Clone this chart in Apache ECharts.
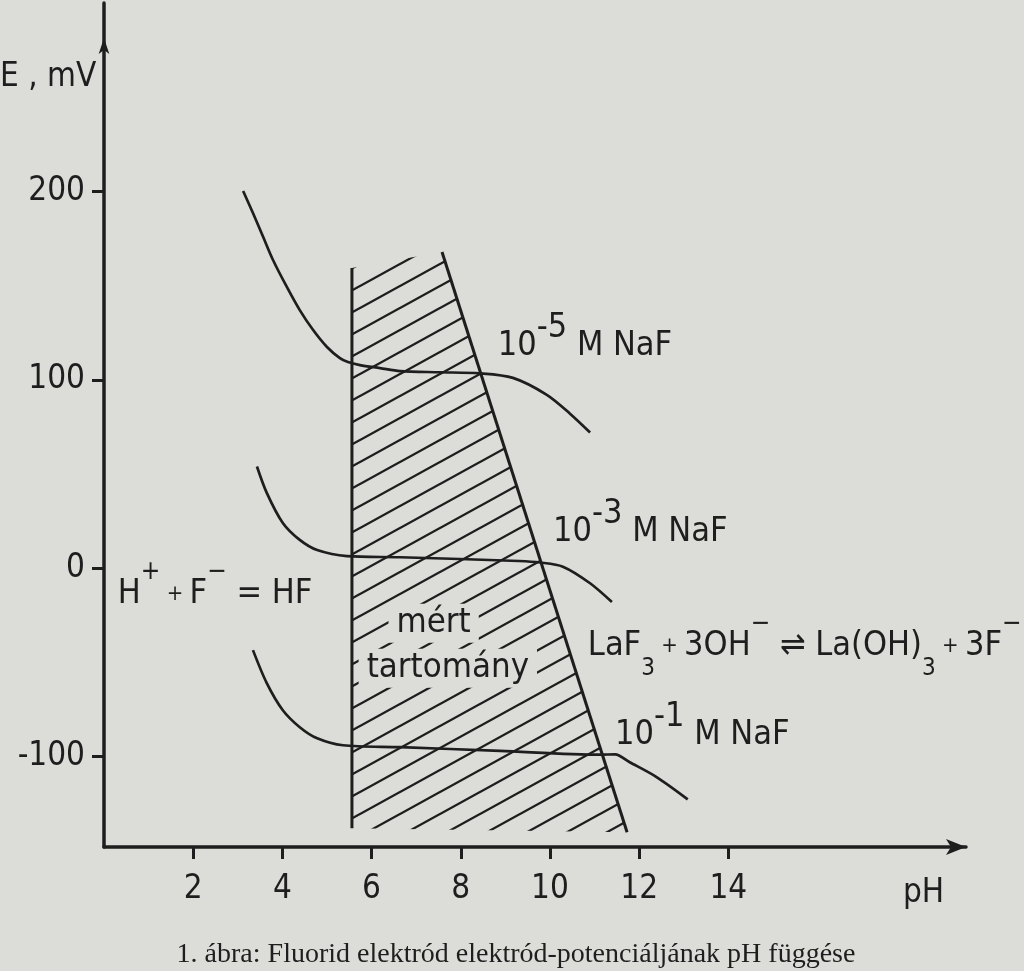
<!DOCTYPE html>
<html><head><meta charset="utf-8">
<script src="https://cdn.jsdelivr.net/npm/echarts@6/dist/echarts.min.js"></script>
<style>html,body{margin:0;padding:0;background:#dcdcd9;}#c{width:1024px;height:971px;}</style>
</head><body><div id="c"></div>
<script>
// ---- data (pH, E in mV) ----
const xTicks = [2, 4, 6, 8, 10, 12, 14];
const yTicks = [-100, 0, 100, 200];
const curve5 = [[3.12,200.2],[3.34,188.5],[3.57,175.8],[3.79,163.6],[4.10,149.3],[4.39,137.0],[4.69,126.4],[5.00,117.4],[5.29,111.5],[5.47,109.4],[5.74,107.8],[6.19,106.2],[6.64,104.6],[7.53,104],[8.43,103.4],[9.17,101],[9.93,92],[10.45,82],[10.90,72]];
const curve3 = [[3.43,54],[3.65,40],[4.01,24],[4.39,15],[4.78,9.6],[5.45,6.4],[6.64,5.8],[9.3,3.8],[9.78,3.0],[10.29,0.8],[10.9,-8],[11.39,-18]];
const curve1 = [[3.34,-43.5],[3.65,-61],[4.01,-75.4],[4.39,-84.4],[4.78,-90.3],[5.36,-94],[6.64,-95],[8.88,-97],[11.12,-99],[11.46,-98.8],[11.79,-103],[12.40,-111],[13.09,-122.7]];
const rangeLeft = [[5.56,159.3],[5.56,-138]];
const rangeRight = [[7.58,167.8],[11.73,-140.2]];
const rangeArea = [[5.56,159.3],[7.58,167.8],[11.73,-140.2],[5.56,-138]];
const annotations = [
  {at:[8.83,118],  text:'{m|10}{sup|-5}{m| M NaF}'},
  {at:[10.07,19],  text:'{m|10}{sup|-3}{m| M NaF}'},
  {at:[11.46,-88.7], text:'{m|10}{sup|-1}{m| M NaF}'},
  {at:[10.85,-41.4], text:'{m|LaF}{sub|3}{op| + }{m|3OH}{chg|−}{m| ⇌ La(OH)}{sub|3}{op| + }{m|3F}{chg|−}'},
  {at:[0.31,-13.8], text:'{m|H}{chg|+}{op| + }{m|F}{chg|−}{m| = HF}'},
  {at:[6.38,-29.2], text:'{k|mért}'},
  {at:[5.71,-53.1], text:'{k|tartomány}'}
];
const yName = 'E , mV';
const xName = 'pH';
const caption = '1. ábra: Fluorid elektród elektród-potenciáljának pH függése';

// ---- style ----
const INK = '#1e1e1e';
const BG = '#dcdcd9';
const F = "'DejaVu Sans Condensed','Liberation Sans Narrow','DejaVu Sans',sans-serif";

function hatchCanvas(){
  const W = 40, H = 22;
  const c = document.createElement('canvas');
  c.width = W; c.height = H;
  const g = c.getContext('2d');
  g.strokeStyle = INK; g.lineWidth = 2.3;
  [-H, 0, H].forEach(function(dy){
    g.beginPath(); g.moveTo(-W, 2*H + dy); g.lineTo(2*W, -H + dy); g.stroke();
  });
  return c;
}
const hatch = hatchCanvas();

const rich = {
  m:   {fontSize:34, lineHeight:70, fontFamily:F, color:INK},
  sup: {fontSize:34, lineHeight:30, verticalAlign:'top', fontFamily:F, color:INK},
  sub: {fontSize:24, lineHeight:30, verticalAlign:'bottom', fontFamily:F, color:INK},
  chg: {fontSize:26, lineHeight:40, verticalAlign:'top', fontFamily:F, color:INK},
  op:  {fontSize:22, lineHeight:70, fontFamily:F, color:INK},
  k:   {fontSize:34.5, lineHeight:36, fontFamily:F, color:INK, backgroundColor:BG, padding:[2,8,2,8]}
};

function curve(d){
  return {type:'line', data:d, showSymbol:false, smooth:0.3, z:4,
    lineStyle:{color:INK, width:2.7}, silent:true};
}
function straight(d){
  return {type:'line', data:d, showSymbol:false, z:4,
    lineStyle:{color:INK, width:3}, silent:true};
}

const chart = echarts.init(document.getElementById('c'));
chart.setOption({
  backgroundColor: BG,
  animation: false,
  grid: {left:104, right:58, top:3, bottom:124},
  xAxis: {
    type:'value', min:0, max:19.33,
    axisLine:{onZero:false, lineStyle:{color:INK, width:3.5}, symbol:['none','arrow'], symbolSize:[12,20]},
    axisTick:{customValues:xTicks, length:12, lineStyle:{color:INK, width:3}},
    axisLabel:{customValues:xTicks, fontSize:33, fontFamily:F, color:INK, margin:26},
    splitLine:{show:false}
  },
  yAxis: {
    type:'value', min:-148, max:300,
    axisLine:{show:true, onZero:false, lineStyle:{color:INK, width:3.5}, symbol:['none','arrow'], symbolSize:[8,16], symbolOffset:[0,-35]},
    axisTick:{show:true, customValues:yTicks, length:12, lineStyle:{color:INK, width:3}},
    axisLabel:{customValues:yTicks, fontSize:33, fontFamily:F, color:INK, margin:19},
    splitLine:{show:false}
  },
  series: [
    {type:'custom', z:1, silent:true, data:[rangeArea[0]],
     renderItem: function(params, api){
       const pts = rangeArea.map(function(p){ return api.coord(p); });
       return {type:'polygon', shape:{points:pts}, style:{fill:{image:hatch, repeat:'repeat'}, stroke:null}};
     }},
    straight(rangeLeft),
    straight(rangeRight),
    curve(curve5),
    curve(curve3),
    curve(curve1),
    {type:'scatter', symbolSize:0, z:6, silent:true, itemStyle:{opacity:1},
     data: annotations.map(function(a){
       return {value:a.at, label:{show:true, position:'right', distance:0, opacity:1, color:INK, formatter:a.text, rich:rich}};
     })}
  ],
  graphic: [
    {type:'text', x:0, y:77, style:{text:yName, fontSize:33, fontFamily:F, fill:INK, verticalAlign:'middle'}},
    {type:'text', x:903, y:893, style:{text:xName, fontSize:33, fontFamily:F, fill:INK, verticalAlign:'middle'}},
    {type:'text', x:516, y:955, style:{text:caption, fontSize:28, fontFamily:"'Liberation Serif','DejaVu Serif',serif", fill:INK, align:'center', verticalAlign:'middle'}}
  ]
});
</script></body></html>
